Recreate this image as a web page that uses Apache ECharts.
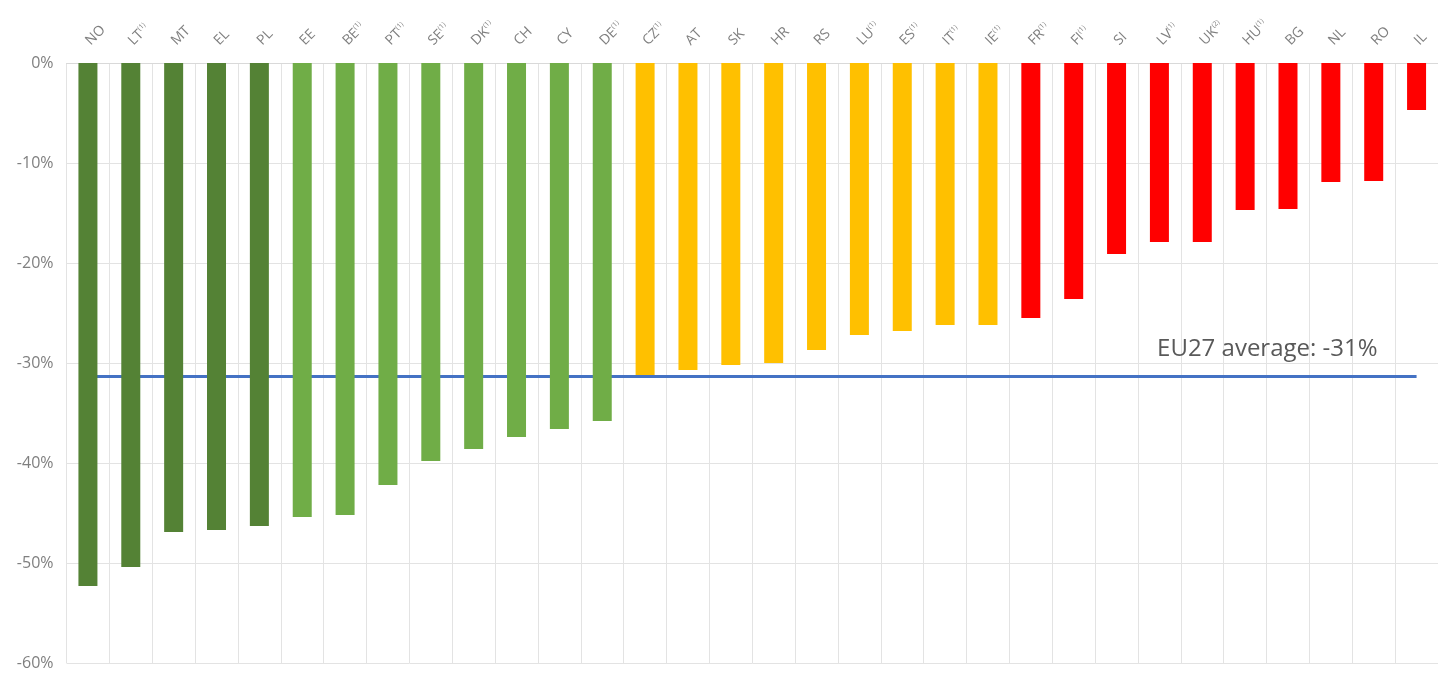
<!DOCTYPE html>
<html>
<head>
<meta charset="utf-8">
<script src="https://cdn.jsdelivr.net/npm/echarts@6/dist/echarts.min.js"></script>
<style>html,body{margin:0;padding:0;background:#fff}#c{width:1438px;height:673px}</style>
</head>
<body>
<div id="c"></div>
<script>
const countries = ['NO','LT','MT','EL','PL','EE','BE','PT','SE','DK','CH','CY','DE','CZ','AT','SK','HR','RS','LU','ES','IT','IE','FR','FI','SI','LV','UK','HU','BG','NL','RO','IL'];
const footnotes = ['','1','','','','','1','1','1','1','','','1','1','','','','','1','1','1','1','1','1','','1','2','1','','','',''];
const values = [-52.3,-50.4,-46.9,-46.7,-46.3,-45.4,-45.2,-42.2,-39.8,-38.6,-37.4,-36.6,-35.8,-31.2,-30.7,-30.2,-30.0,-28.7,-27.2,-26.8,-26.2,-26.2,-25.5,-23.6,-19.1,-17.9,-17.9,-14.7,-14.6,-11.9,-11.8,-4.7];
const groups = ['dark','dark','dark','dark','dark','light','light','light','light','light','light','light','light','yellow','yellow','yellow','yellow','yellow','yellow','yellow','yellow','yellow','red','red','red','red','red','red','red','red','red','red'];
const groupColors = {dark:'#548235', light:'#70AD47', yellow:'#FFC000', red:'#FF0000'};
const euAverage = -31.3;
const euLabel = 'EU27 average: -31%';
const yTicks = {min:-60, max:0, interval:10};

const chart = echarts.init(document.getElementById('c'));
chart.setOption({
  animation:false,
  grid:{left:66.5, top:63, width:1378, bottom:10},
  xAxis:{
    type:'category', position:'top', data:countries,
    axisLine:{show:true, lineStyle:{color:'#d9d9d9'}},
    axisTick:{show:false},
    splitLine:{show:true, lineStyle:{color:'#e3e3e3', width:1}},
    axisLabel:{
      interval:0, rotate:45, margin:20,
      formatter:(v)=>{ const f = footnotes[countries.indexOf(v)]; return f ? '{m|'+v+'}{s|('+f+')}' : '{m|'+v+'}'; },
      rich:{
        m:{fontFamily:'Open Sans', fontSize:14, color:'#7f7f7f'},
        s:{fontFamily:'Open Sans', fontSize:7, color:'#7f7f7f', verticalAlign:'top', padding:[0,0,8,0]}
      }
    }
  },
  yAxis:{
    type:'value', min:yTicks.min, max:yTicks.max, interval:yTicks.interval,
    axisLine:{show:false}, axisTick:{show:false},
    splitLine:{show:true, lineStyle:{color:'#e3e3e3', width:1}},
    axisLabel:{formatter:'{value}%', fontFamily:'Open Sans', fontSize:16, color:'#7f7f7f', margin:13}
  },
  series:[{
    type:'bar', barWidth:19,
    data: values.map((v,i)=>({value:v, itemStyle:{color:groupColors[groups[i]]}})),
    z:3,
    markLine:{
      silent:true, symbol:'none', z:2,
      lineStyle:{color:'#4472C4', width:3, type:'solid'},
      label:{show:true, position:'insideEndTop', formatter:euLabel, fontFamily:'Open Sans', fontSize:24, color:'#595959', distance:15, padding:[0,24,0,0]},
      data:[[{xAxis:countries[0], yAxis:euAverage},{xAxis:countries[countries.length-1], yAxis:euAverage}]]
    }
  }]
});
</script>
</body>
</html>
